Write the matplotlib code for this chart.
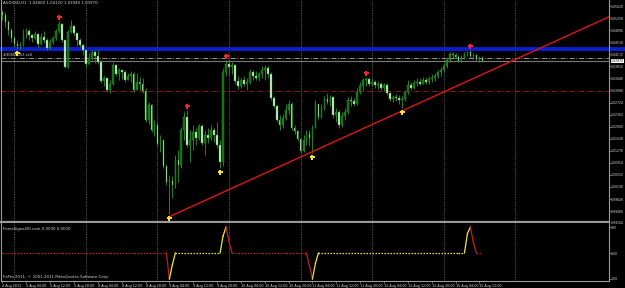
import numpy as np
import matplotlib
matplotlib.use("Agg")
import matplotlib.pyplot as plt
from matplotlib.transforms import blended_transform_factory

# ---- data (AUDUSD H1) ----
first_open = 1.0544
closes = [
    1.0535, 1.0514, 1.0490, 1.0466, 1.0448, 1.0442, 1.0445, 1.0472, 1.0487, 1.0475,
    1.0466, 1.0478, 1.0448, 1.0469, 1.0460, 1.0436, 1.0454, 1.0466, 1.0487, 1.0508,
    1.0460, 1.0379, 1.0484, 1.0502, 1.0481, 1.0460, 1.0445, 1.0430, 1.0388, 1.0406,
    1.0424, 1.0412, 1.0394, 1.0337, 1.0346, 1.0310, 1.0328, 1.0385, 1.0358, 1.0370,
    1.0364, 1.0340, 1.0352, 1.0358, 1.0310, 1.0334, 1.0328, 1.0307, 1.0220, 1.0265,
    1.0190, 1.0205, 1.0148, 1.0160, 1.0082, 1.0034, 1.0037, 1.0025, 1.0100, 1.0085,
    1.0190, 1.0229, 1.0145, 1.0160, 1.0184, 1.0166, 1.0202, 1.0151, 1.0175, 1.0166,
    1.0190, 1.0175, 1.0145, 1.0094, 1.0364, 1.0388, 1.0379, 1.0385, 1.0337, 1.0322,
    1.0340, 1.0328, 1.0334, 1.0364, 1.0352, 1.0346, 1.0358, 1.0370, 1.0376, 1.0358,
    1.0286, 1.0262, 1.0220, 1.0205, 1.0226, 1.0250, 1.0268, 1.0196, 1.0187, 1.0163,
    1.0127, 1.0160, 1.0178, 1.0166, 1.0196, 1.0268, 1.0229, 1.0256, 1.0283, 1.0274,
    1.0289, 1.0235, 1.0244, 1.0205, 1.0232, 1.0244, 1.0280, 1.0277, 1.0268, 1.0304,
    1.0322, 1.0340, 1.0343, 1.0328, 1.0334, 1.0325, 1.0328, 1.0316, 1.0325, 1.0301,
    1.0283, 1.0289, 1.0286, 1.0280, 1.0283, 1.0304, 1.0325, 1.0316, 1.0331, 1.0334,
    1.0328, 1.0340, 1.0334, 1.0343, 1.0346, 1.0352, 1.0364, 1.0370, 1.0382, 1.0400,
    1.0418, 1.0415, 1.0409, 1.0397, 1.0406, 1.0421, 1.0424, 1.0412, 1.0415, 1.0403,
    1.0406, 1.0397]
highs = [
    1.0550, 1.0544, 1.0520, 1.0496, 1.0472, 1.0460, 1.0454, 1.0493, 1.0496, 1.0493,
    1.0478, 1.0487, 1.0481, 1.0481, 1.0487, 1.0466, 1.0463, 1.0472, 1.0493, 1.0517,
    1.0511, 1.0460, 1.0490, 1.0520, 1.0505, 1.0481, 1.0466, 1.0448, 1.0430, 1.0421,
    1.0430, 1.0430, 1.0430, 1.0400, 1.0352, 1.0346, 1.0340, 1.0394, 1.0388, 1.0376,
    1.0370, 1.0370, 1.0361, 1.0367, 1.0364, 1.0361, 1.0349, 1.0346, 1.0316, 1.0274,
    1.0268, 1.0220, 1.0214, 1.0175, 1.0160, 1.0085, 1.0055, 1.0052, 1.0115, 1.0130,
    1.0199, 1.0244, 1.0250, 1.0190, 1.0205, 1.0196, 1.0208, 1.0208, 1.0190, 1.0196,
    1.0205, 1.0196, 1.0214, 1.0160, 1.0376, 1.0400, 1.0394, 1.0394, 1.0388, 1.0352,
    1.0346, 1.0352, 1.0346, 1.0373, 1.0370, 1.0367, 1.0364, 1.0382, 1.0385, 1.0382,
    1.0364, 1.0292, 1.0265, 1.0235, 1.0238, 1.0268, 1.0280, 1.0274, 1.0205, 1.0190,
    1.0166, 1.0175, 1.0190, 1.0190, 1.0205, 1.0280, 1.0268, 1.0268, 1.0292, 1.0301,
    1.0295, 1.0292, 1.0256, 1.0250, 1.0244, 1.0256, 1.0289, 1.0292, 1.0286, 1.0316,
    1.0334, 1.0346, 1.0349, 1.0349, 1.0343, 1.0340, 1.0337, 1.0334, 1.0331, 1.0331,
    1.0304, 1.0295, 1.0298, 1.0295, 1.0292, 1.0310, 1.0340, 1.0334, 1.0340, 1.0346,
    1.0346, 1.0349, 1.0349, 1.0352, 1.0358, 1.0361, 1.0370, 1.0379, 1.0391, 1.0409,
    1.0424, 1.0424, 1.0421, 1.0415, 1.0415, 1.0424, 1.0427, 1.0430, 1.0421, 1.0418,
    1.0412, 1.0412]
lows = [
    1.0520, 1.0499, 1.0475, 1.0454, 1.0439, 1.0433, 1.0433, 1.0442, 1.0466, 1.0460,
    1.0454, 1.0460, 1.0439, 1.0445, 1.0451, 1.0430, 1.0433, 1.0448, 1.0460, 1.0481,
    1.0454, 1.0376, 1.0376, 1.0481, 1.0472, 1.0442, 1.0439, 1.0415, 1.0379, 1.0388,
    1.0400, 1.0391, 1.0388, 1.0331, 1.0322, 1.0304, 1.0301, 1.0325, 1.0352, 1.0340,
    1.0343, 1.0334, 1.0340, 1.0334, 1.0304, 1.0310, 1.0310, 1.0301, 1.0214, 1.0208,
    1.0184, 1.0172, 1.0142, 1.0124, 1.0076, 1.0025, 0.9938, 0.9986, 1.0016, 1.0034,
    1.0076, 1.0160, 1.0139, 1.0094, 1.0130, 1.0145, 1.0160, 1.0145, 1.0115, 1.0151,
    1.0160, 1.0154, 1.0136, 1.0076, 1.0082, 1.0352, 1.0355, 1.0358, 1.0328, 1.0313,
    1.0316, 1.0322, 1.0310, 1.0328, 1.0340, 1.0340, 1.0337, 1.0346, 1.0340, 1.0346,
    1.0280, 1.0256, 1.0214, 1.0190, 1.0196, 1.0220, 1.0238, 1.0190, 1.0178, 1.0157,
    1.0121, 1.0124, 1.0145, 1.0142, 1.0121, 1.0196, 1.0223, 1.0226, 1.0250, 1.0268,
    1.0262, 1.0226, 1.0214, 1.0196, 1.0199, 1.0220, 1.0238, 1.0262, 1.0262, 1.0265,
    1.0298, 1.0310, 1.0322, 1.0322, 1.0322, 1.0316, 1.0313, 1.0310, 1.0307, 1.0295,
    1.0277, 1.0274, 1.0277, 1.0268, 1.0256, 1.0277, 1.0298, 1.0310, 1.0313, 1.0322,
    1.0325, 1.0328, 1.0328, 1.0328, 1.0334, 1.0337, 1.0346, 1.0352, 1.0364, 1.0376,
    1.0394, 1.0406, 1.0403, 1.0394, 1.0394, 1.0403, 1.0412, 1.0406, 1.0403, 1.0397,
    1.0394, 1.0394]

top_signal_bars = [19, 62, 75, 122, 157]
bottom_signal_bars = [5, 56, 73, 104, 134]

# oscillator sub-window (mostly flat at zero)
osc = ([0] * 56 + [-100, -45] + [0] * 16 + [65, 100, 45] + [0] * 26
       + [-50, -100, -40] + [0] * 50 + [75, 100, 40] + [0] * 3)

trend_anchors = [(56, 0.9930), (134, 1.0247)]
level_blue = 1.0433
level_order = 1.0406
level_stop = 1.0307

price_ticks = [1.05620, 1.05258, 1.04896, 1.04534, 1.04172, 1.03810, 1.03448,
               1.03086, 1.02724, 1.02362, 1.02000, 1.01638, 1.01276, 1.00914,
               1.00552, 1.00190, 0.99828, 0.99466]
time_labels = ["4 Aug 2011", "5 Aug 04:00", "5 Aug 12:00", "5 Aug 20:00",
               "8 Aug 04:00", "8 Aug 12:00", "8 Aug 20:00", "9 Aug 04:00",
               "9 Aug 12:00", "9 Aug 20:00", "10 Aug 04:00", "10 Aug 12:00",
               "10 Aug 20:00", "11 Aug 04:00", "11 Aug 12:00", "11 Aug 20:00",
               "12 Aug 04:00", "12 Aug 12:00", "12 Aug 20:00", "15 Aug 04:00",
               "15 Aug 12:00"]
day_breaks = [4, 28, 52, 76, 100, 124, 148, 172]

# ---- style ----
WICK, BULL, BEAR = "#2a962a", "#116a11", "#dff2df"
FRAME, TXT = "#9a9a9a", "#d8d8d8"
SMALL = 2.25

W, H = 625, 288
RIGHT = 609
fig = plt.figure(figsize=(W / 100, H / 100), dpi=100, facecolor="black")
ax = fig.add_axes([1 / W, (H - 222) / H, (RIGHT - 1) / W, 222 / H], facecolor="black")
axo = fig.add_axes([1 / W, (H - 281) / H, (RIGHT - 1) / W, 58 / H], facecolor="black")

n = len(closes)
x = np.arange(n)
c = np.array(closes); h = np.array(highs); l = np.array(lows)
o = np.array([first_open] + closes[:-1])

for a in (ax, axo):
    a.set_xlim(-0.5, 203.5)
    for g in day_breaks:
        a.axvline(g, color="#9a9a9a", lw=0.5, ls=(0, (1, 1.5)), zorder=1)
    for s in a.spines.values():
        s.set_color(FRAME)
        s.set_linewidth(0.8)

ax.set_ylim(0.9914, 1.0580)
axo.set_ylim(-107.7, 115.4)
ax.spines["top"].set_visible(False)
ax.spines["bottom"].set_linewidth(1.6)
axo.spines["top"].set_visible(False)

# horizontal levels
ax.axhline(level_blue, xmax=1.03, color="#0b1ed0", lw=2.8, zorder=2, clip_on=False)
ax.axhline(level_order, color="#a8a8a8", lw=0.6, ls=(0, (6, 2, 1, 2)), zorder=2)
ax.axhline(c[-1], color="#7a7a7a", lw=0.8, zorder=2)
ax.axhline(level_stop, color="#a81818", lw=0.6, ls=(0, (6, 2, 1, 2)), zorder=2)

# candles
up = c >= o
body = np.maximum(np.abs(c - o), 0.00008)
ax.vlines(x, l, h, color=WICK, lw=0.6, zorder=3)
ax.bar(x[up], body[up], bottom=o[up], width=0.55, color=BULL,
       edgecolor=WICK, lw=0.3, zorder=4)
ax.bar(x[~up], body[~up], bottom=c[~up], width=0.55, color=BEAR,
       edgecolor=WICK, lw=0.3, zorder=4)

# trend ray
(x1, y1), (x2, y2) = trend_anchors
slope = (y2 - y1) / (x2 - x1)
xr = ax.get_xlim()[1]
ax.plot([x1, xr], [y1, y1 + slope * (xr - x1)], color="#e01414", lw=1.0, zorder=5)

# signal arrows
ax.plot(top_signal_bars, h[top_signal_bars] + 0.0011, ls="none", marker="P",
        ms=3.6, color="#ff2424", mew=0, zorder=6)
ax.plot(bottom_signal_bars, l[bottom_signal_bars] - 0.0011, ls="none", marker="P",
        ms=3.6, color="#ffe028", mew=0, zorder=6)

# price axis
ax.yaxis.tick_right()
ax.set_yticks(price_ticks)
ax.set_yticklabels([f"{v:.5f}" for v in price_ticks])
ax.tick_params(axis="y", colors=FRAME, labelcolor=TXT, labelsize=SMALL,
               length=1.2, width=0.5, pad=0.3)
ax.tick_params(axis="x", bottom=False, labelbottom=False)
bt = blended_transform_factory(ax.transAxes, ax.transData)
ax.text(1.003, c[-1], f"{c[-1]:.5f}", transform=bt, fontsize=SMALL, color="black",
        va="center", ha="left", clip_on=False,
        bbox=dict(boxstyle="square,pad=0.08", fc="white", ec="none"))
fig.text((RIGHT + 2) / W, 1 - 223 / H, "0.99104", fontsize=SMALL, color=TXT,
         va="center")

ax.text(0.004, 0.995, f"AUDUSD,H1  {o[-1]:.5f} {h[-1]:.5f} {l[-1]:.5f} {c[-1]:.5f}",
        transform=ax.transAxes, fontsize=2.8, color=TXT, va="top", ha="left")
ax.text(0.003, level_order + 0.0003, "#30658053 sell", transform=bt,
        fontsize=2.6, color=TXT, va="bottom", ha="left")

# oscillator
state = "r"
for k in range(n - 1):
    if osc[k] <= -100:
        state = "y"
    elif osc[k] >= 100:
        state = "r"
    col = "#e8e83a" if state == "y" else "#c41e1e"
    flat = osc[k] == osc[k + 1]
    axo.plot([k, k + 1], [osc[k], osc[k + 1]], color=col, lw=0.9,
             ls=(0, (1.2, 1.2)) if flat else "-", zorder=3)

axo.yaxis.tick_right()
axo.set_yticks([100, 0, -100])
axo.set_yticklabels(["100", "0.00", "-100"])
axo.tick_params(axis="y", colors=FRAME, labelcolor=TXT, labelsize=SMALL,
                length=1.2, width=0.5, pad=0.3)
axo.set_xticks(x[::8])
axo.set_xticklabels(time_labels, ha="left")
axo.tick_params(axis="x", colors=FRAME, labelcolor=TXT, labelsize=2.4,
                length=1.5, width=0.5, pad=0.5)
axo.text(0.004, 0.93, "ForexSignal30.com 0.0000 0.0000", transform=axo.transAxes,
         fontsize=2.8, color=TXT, va="top", ha="left")
axo.text(0.004, 0.04, "FxPro 2011, \u00a9 2001-2011 MetaQuotes Software Corp.",
         transform=axo.transAxes, fontsize=2.8, color=TXT, va="bottom", ha="left")

fig.savefig("out.png", dpi=100, facecolor="black")
